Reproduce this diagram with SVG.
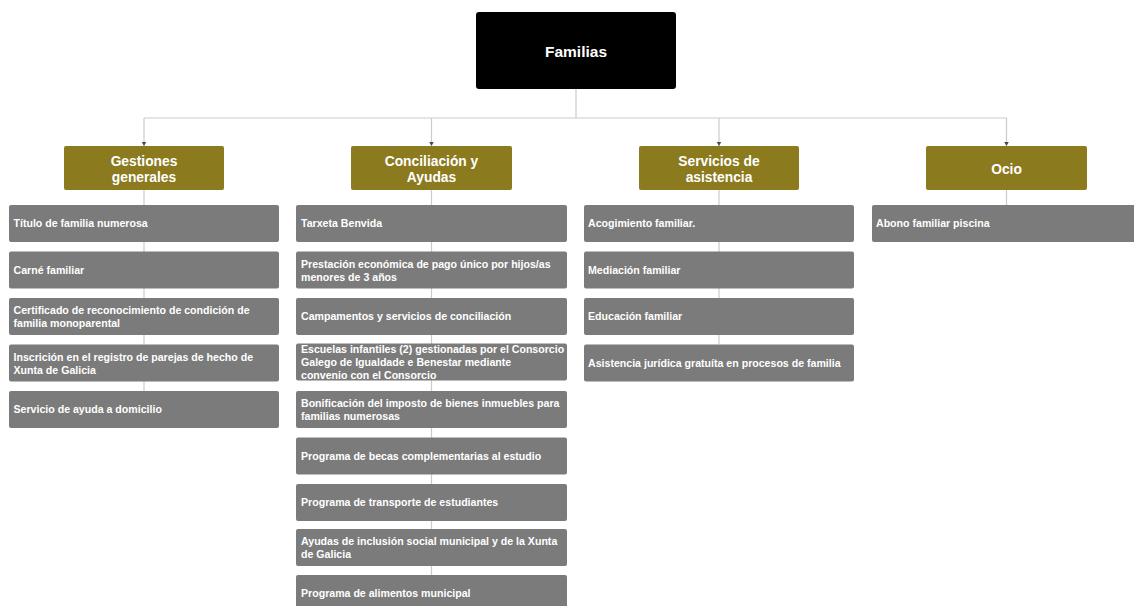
<svg xmlns="http://www.w3.org/2000/svg" width="1134" height="606" viewBox="0 0 1134 606">
<style>
.bg{fill:#ffffff}
.root{fill:#000000}
.cat{fill:#8c7a1e}
.leaf{fill:#7b7b7b}
.conn{stroke:#cbcbcb;stroke-width:1.2;fill:none}
.t{font-family:"Liberation Sans",Arial,sans-serif;font-weight:bold;fill:#ffffff}
.tr{font-size:15.5px;text-anchor:middle}
.tc{font-size:13.8px;text-anchor:middle}
.tl{font-size:10.6px}
</style>
<defs>
<marker id="arr" markerWidth="6" markerHeight="6" refX="4.5" refY="2.5" orient="auto" markerUnits="userSpaceOnUse">
<path d="M0,0 L4.5,2.5 L0,5 Z" fill="#4a4a4a"/>
</marker>
</defs>
<rect class="bg" x="0" y="0" width="1134" height="606"/>
<g id="connectors">
<path class="conn" d="M576,89 V118 M144,118 H1007"/>
<path class="conn" d="M144,118 V146" marker-end="url(#arr)"/>
<path class="conn" d="M431.5,118 V146" marker-end="url(#arr)"/>
<path class="conn" d="M719,118 V146" marker-end="url(#arr)"/>
<path class="conn" d="M1006.5,118 V146" marker-end="url(#arr)"/>
<path class="conn" d="M144,190 V391"/>
<path class="conn" d="M431.5,190 V577"/>
<path class="conn" d="M719,190 V344"/>
<path class="conn" d="M1006.5,190 V205"/>
</g>
<g id="root">
<rect class="root" x="476" y="12" width="200" height="77" rx="3"/>
<text class="t tr" x="576" y="57">Familias</text>
</g>
<g id="cat1">
<rect class="cat" x="64" y="146" width="160" height="44" rx="2"/>
<text class="t tc" x="144" y="166">Gestiones</text>
<text class="t tc" x="144" y="182">generales</text>
</g>
<g id="cat2">
<rect class="cat" x="351" y="146" width="161" height="44" rx="2"/>
<text class="t tc" x="431.5" y="166">Conciliación y</text>
<text class="t tc" x="431.5" y="182">Ayudas</text>
</g>
<g id="cat3">
<rect class="cat" x="639" y="146" width="160" height="44" rx="2"/>
<text class="t tc" x="719" y="166">Servicios de</text>
<text class="t tc" x="719" y="182">asistencia</text>
</g>
<g id="cat4">
<rect class="cat" x="926" y="146" width="161" height="44" rx="2"/>
<text class="t tc" x="1006.5" y="174">Ocio</text>
</g>
<g id="g1">
<rect class="leaf" x="9" y="205" width="270" height="37" rx="2"/>
<text class="t tl" x="13.5" y="227">Título de familia numerosa</text>
</g>
<g id="g2">
<rect class="leaf" x="9" y="251.5" width="270" height="37" rx="2"/>
<text class="t tl" x="13.5" y="273.5">Carné familiar</text>
</g>
<g id="g3">
<rect class="leaf" x="9" y="298" width="270" height="37" rx="2"/>
<text class="t tl" x="13.5" y="314">Certificado de reconocimiento de condición de</text>
<text class="t tl" x="13.5" y="327">familia monoparental</text>
</g>
<g id="g4">
<rect class="leaf" x="9" y="344.5" width="270" height="37" rx="2"/>
<text class="t tl" x="13.5" y="360.5">Inscrición en el registro de parejas de hecho de</text>
<text class="t tl" x="13.5" y="373.5">Xunta de Galicia</text>
</g>
<g id="g5">
<rect class="leaf" x="9" y="391" width="270" height="37" rx="2"/>
<text class="t tl" x="13.5" y="413">Servicio de ayuda a domicilio</text>
</g>
<g id="c1">
<rect class="leaf" x="296" y="205" width="271" height="37" rx="2"/>
<text class="t tl" x="301" y="227">Tarxeta Benvida</text>
</g>
<g id="c2">
<rect class="leaf" x="296" y="251.5" width="271" height="37" rx="2"/>
<text class="t tl" x="301" y="267.5">Prestación económica de pago único por hijos/as</text>
<text class="t tl" x="301" y="280.5">menores de 3 años</text>
</g>
<g id="c3">
<rect class="leaf" x="296" y="298" width="271" height="37" rx="2"/>
<text class="t tl" x="301" y="320">Campamentos y servicios de conciliación</text>
</g>
<g id="c4">
<rect class="leaf" x="296" y="343.5" width="271" height="37" rx="2"/>
<text class="t tl" x="301" y="353">Escuelas infantiles (2) gestionadas por el Consorcio</text>
<text class="t tl" x="301" y="366">Galego de Igualdade e Benestar mediante</text>
<text class="t tl" x="301" y="378.5">convenio con el Consorcio</text>
</g>
<g id="c5">
<rect class="leaf" x="296" y="391" width="271" height="37" rx="2"/>
<text class="t tl" x="301" y="407">Bonificación del imposto de bienes inmuebles para</text>
<text class="t tl" x="301" y="420">familias numerosas</text>
</g>
<g id="c6">
<rect class="leaf" x="296" y="437.5" width="271" height="37" rx="2"/>
<text class="t tl" x="301" y="459.5">Programa de becas complementarias al estudio</text>
</g>
<g id="c7">
<rect class="leaf" x="296" y="484" width="271" height="37" rx="2"/>
<text class="t tl" x="301" y="506">Programa de transporte de estudiantes</text>
</g>
<g id="c8">
<rect class="leaf" x="296" y="529" width="271" height="37" rx="2"/>
<text class="t tl" x="301" y="545">Ayudas de inclusión social municipal y de la Xunta</text>
<text class="t tl" x="301" y="558">de Galicia</text>
</g>
<g id="c9">
<rect class="leaf" x="296" y="575" width="271" height="37" rx="2"/>
<text class="t tl" x="301" y="597">Programa de alimentos municipal</text>
</g>
<g id="s1">
<rect class="leaf" x="584" y="205" width="270" height="37" rx="2"/>
<text class="t tl" x="588" y="227">Acogimiento familiar.</text>
</g>
<g id="s2">
<rect class="leaf" x="584" y="251.5" width="270" height="37" rx="2"/>
<text class="t tl" x="588" y="273.5">Mediación familiar</text>
</g>
<g id="s3">
<rect class="leaf" x="584" y="298" width="270" height="37" rx="2"/>
<text class="t tl" x="588" y="320">Educación familiar</text>
</g>
<g id="s4">
<rect class="leaf" x="584" y="344.5" width="270" height="37" rx="2"/>
<text class="t tl" x="588" y="366.5">Asistencia jurídica gratuíta en procesos de familia</text>
</g>
<g id="o1">
<rect class="leaf" x="872" y="205" width="270" height="37" rx="2"/>
<text class="t tl" x="876" y="227">Abono familiar piscina</text>
</g>
</svg>
